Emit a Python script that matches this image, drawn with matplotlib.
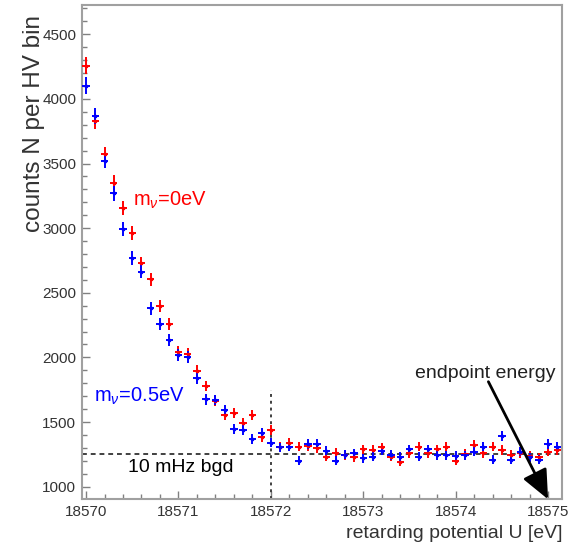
"""
Tritium spectrum near the endpoint: counts per HV bin for two neutrino masses
"""

import numpy as np
import matplotlib.pyplot as plt
from matplotlib.ticker import MultipleLocator

plt.rcParams["font.family"] = ["Liberation Sans", "DejaVu Sans"]
plt.rcParams["mathtext.fontset"] = "custom"
plt.rcParams["mathtext.rm"] = "Liberation Sans"
plt.rcParams["mathtext.it"] = "Liberation Sans:italic"

# retarding potential of each HV bin [eV], 0.1 eV steps
retarding_u = np.round(np.arange(18570.0, 18575.15, 0.1), 1)

# counts for m_nu = 0 eV
counts_m0 = [
    4255, 3829, 3571, 3352, 3154, 2965, 2728, 2604, 2398, 2259,
    2044, 2027, 1897, 1779, 1665, 1555, 1568, 1495, 1555, 1382,
    1439, 1309, 1340, 1309, 1315, 1297, 1232, 1263, 1243, 1227,
    1289, 1284, 1305, 1232, 1193, 1258, 1309, 1258, 1289, 1309,
    1201, 1253, 1323, 1258, 1309, 1284, 1245, 1258, 1237, 1227,
    1271, 1284,
]

# counts for m_nu = 0.5 eV
counts_m05 = [
    4102, 3868, 3522, 3270, 2991, 2767, 2663, 2380, 2259, 2135,
    2019, 2001, 1839, 1676, 1671, 1593, 1444, 1439, 1367, 1418,
    1340, 1305, 1309, 1201, 1330, 1330, 1278, 1201, 1248, 1258,
    1220, 1232, 1278, 1245, 1232, 1289, 1232, 1289, 1243, 1243,
    1237, 1243, 1271, 1309, 1207, 1392, 1207, 1271, 1227, 1207,
    1330, 1309,
]

bgd_level = 1250
endpoint = 18575.0


def plot_spectrum(ax, u, counts, color):
    counts = np.asarray(counts, dtype=float)
    ax.errorbar(u, counts, yerr=np.sqrt(counts), xerr=0.04,
                fmt="s", ms=2, color=color, ecolor=color,
                elinewidth=1.4, capsize=0, zorder=3)


fig = plt.figure(figsize=(5.75, 5.46), dpi=100)
ax = fig.add_axes([0.1421, 0.0855, 0.836, 0.906])

plot_spectrum(ax, retarding_u, counts_m0, "#ff0000")
plot_spectrum(ax, retarding_u, counts_m05, "#0000ff")

ax.set_xlim(18569.953, 18575.155)
ax.set_ylim(902, 4729)

# background level and start of the flat region
ax.axhline(bgd_level, color="#404040", lw=1.4, ls=(0, (2.5, 2)), zorder=2)
ax.plot([18572.0, 18572.0], [902, 1748], color="#404040", lw=1.4,
        ls=(0, (1.5, 2)), zorder=2)

ax.text(18570.51, 3170, r"m$_{\nu}$=0eV", color="#ff0000", fontsize=14.5)
ax.text(18570.09, 1655, r"m$_{\nu}$=0.5eV", color="#0000ff", fontsize=14.5)
ax.text(18570.458, 1116, "10 mHz bgd", color="black", fontsize=14)
ax.text(18573.56, 1839, "endpoint energy", color="#202020", fontsize=14)

ax.annotate("", xy=(endpoint, 902), xytext=(18574.354, 1812),
            arrowprops=dict(arrowstyle="-|>,head_length=0.9,head_width=0.4",
                            color="black", lw=2, shrinkA=0, shrinkB=0,
                            mutation_scale=20),
            annotation_clip=False, zorder=4)

# ROOT-like frame and ticks
for spine in ax.spines.values():
    spine.set_color("#a0a0a0")
    spine.set_linewidth(1.5)

ax.xaxis.set_major_locator(MultipleLocator(1))
ax.xaxis.set_minor_locator(MultipleLocator(0.2))
ax.yaxis.set_major_locator(MultipleLocator(500))
ax.yaxis.set_minor_locator(MultipleLocator(100))
ax.tick_params(which="both", direction="in", color="#808080", width=1,
               top=False, right=False, labelsize=11, labelcolor="#333333")
ax.tick_params(which="major", length=6)
ax.tick_params(which="minor", length=3.5)
ax.tick_params(axis="x", pad=4)
ax.tick_params(axis="y", pad=4)
ax.ticklabel_format(useOffset=False, style="plain")

ax.set_xlabel("retarding potential U [eV]", fontsize=14, color="#333333",
              loc="right")
ax.xaxis.set_label_coords(1.0, -0.052)
ax.xaxis.label.set_verticalalignment("top")
ax.set_ylabel("counts N per HV bin", fontsize=17.5, color="#333333",
              loc="top")
ax.yaxis.set_label_coords(-0.077, 0.98)

fig.savefig("out.png", dpi=100)
